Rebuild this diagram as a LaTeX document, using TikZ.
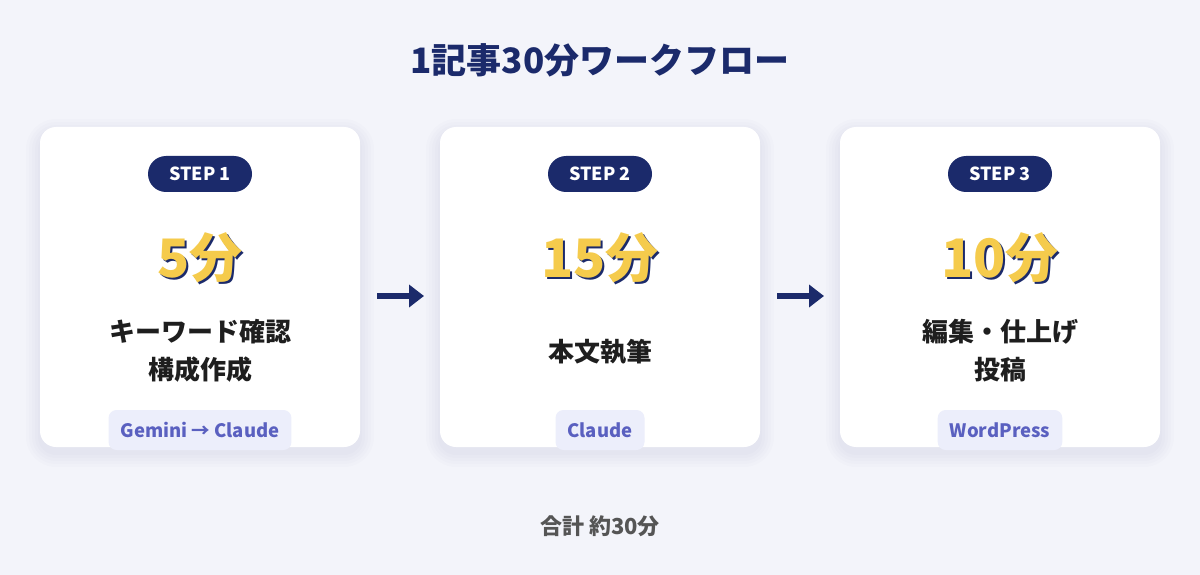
\documentclass[tikz,border=0pt]{standalone}
\usepackage{fontspec}
\setmainfont{Noto Sans CJK JP}
\usetikzlibrary{arrows.meta}
\definecolor{bg}{HTML}{F3F4FA}
\definecolor{navy}{HTML}{1B2A6B}
\definecolor{gold}{HTML}{F5CB4C}
\definecolor{tagbg}{HTML}{ECEEFB}
\definecolor{tagfg}{HTML}{5A60C0}
\definecolor{txt}{HTML}{1E1E1E}
\definecolor{gry}{HTML}{555555}
\newcommand{\shnum}[1]{\rlap{\kern2pt\raisebox{-2pt}{\textcolor{navy}{#1}}}#1}
\tikzset{
  card/.style={fill=white, rounded corners=16, minimum width=320, minimum height=320, inner sep=0},
  pill/.style={fill=navy, text=white, rounded corners=18, minimum width=104, minimum height=36, inner sep=0, font=\bfseries\fontsize{18}{20}\selectfont},
  bignum/.style={text=gold, font=\bfseries\fontsize{53}{58}\selectfont, inner sep=0},
  desc/.style={text=txt, align=center, font=\bfseries\fontsize{26}{38}\selectfont, inner sep=0},
  tag/.style={fill=tagbg, text=tagfg, rounded corners=8, minimum height=40, inner xsep=12, inner ysep=0, font=\bfseries\fontsize{18.5}{20}\selectfont},
  flow/.style={draw=navy, line width=5.5, -{Triangle[length=15,width=22]}},
}
\begin{document}
\begin{tikzpicture}[x=1pt,y=-1pt]
\fill[bg] (0,0) rectangle (1200,575);
\useasboundingbox (0,0) rectangle (1200,575);
\node[text=navy, font=\bfseries\fontsize{35}{40}\selectfont] (title) at (600,60) {1記事30分ワークフロー};
% card shadows
\foreach \cx in {200,600,1000}{
  \foreach \k in {14,11,8,5,2}{
    \fill[navy, opacity=0.012, rounded corners=16+\k] (\cx-160-\k,127-\k+6) rectangle (\cx+160+\k,447+\k+6);
  }
}
\node[card] (c1) at (200,287) {};
\node[card] (c2) at (600,287) {};
\node[card] (c3) at (1000,287) {};
% pills
\node[pill] (s1) at (200,174) {STEP 1};
\node[pill] (s2) at (600,174) {STEP 2};
\node[pill] (s3) at (1000,174) {STEP 3};
% big numbers
\node[bignum] (n1) at (200,259) {\shnum{5分}};
\node[bignum] (n2) at (600,259) {\shnum{15分}};
\node[bignum] (n3) at (1000,259) {\shnum{10分}};
% descriptions
\node[desc] (d1) at (200,351) {キーワード確認\\構成作成};
\node[desc] (d2) at (600,352) {本文執筆};
\node[desc] (d3) at (1000,351) {編集・仕上げ\\投稿};
% tags
\node[tag] (t1) at (200,430) {Gemini → Claude};
\node[tag] (t2) at (600,430) {Claude};
\node[tag] (t3) at (1000,430) {WordPress};
% arrows
\coordinate (a1s) at (377,296); \coordinate (a1e) at (424,296);
\coordinate (a2s) at (777,296); \coordinate (a2e) at (824,296);
\draw[flow] (a1s) -- (a1e);
\draw[flow] (a2s) -- (a2e);
\node[text=gry, font=\bfseries\fontsize{22}{24}\selectfont] (total) at (600,526) {合計 約30分};
\end{tikzpicture}
\end{document}
